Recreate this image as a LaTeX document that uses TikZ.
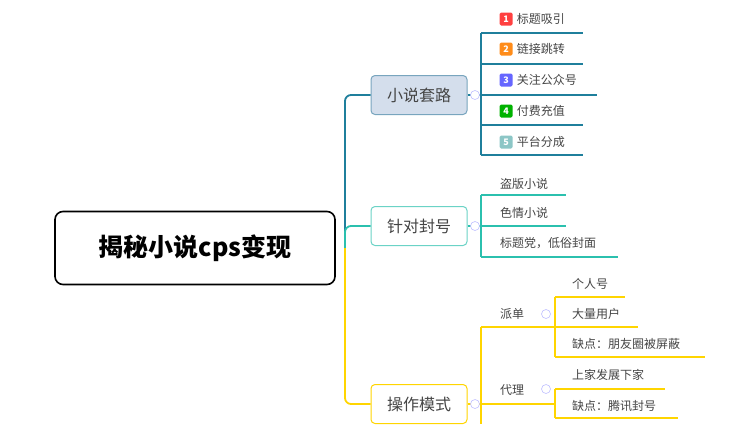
\documentclass[tikz,border=0pt]{standalone}
\usepackage{fontspec}
\setmainfont{Noto Sans CJK SC}
\usetikzlibrary{positioning}
\definecolor{tealA}{HTML}{1F7F9C}
\definecolor{tealB}{HTML}{2BC0AE}
\definecolor{gold}{HTML}{FFD500}
\definecolor{txt}{HTML}{444444}
\tikzset{
    root/.style={rectangle, draw=black, line width=1.6pt, rounded corners=8pt, minimum width=280pt, minimum height=73pt, font=\bfseries\fontsize{25}{28}\selectfont},
    topic/.style={rectangle, rounded corners=4pt, line width=1pt, minimum width=96pt, minimum height=39pt, font=\fontsize{16}{18}\selectfont, text=txt},
    leaf/.style={anchor=west, inner sep=0pt, font=\fontsize{12}{14}\selectfont, text=txt},
    badge/.style={rectangle, rounded corners=1.5pt, minimum size=13pt, inner sep=0pt, text=white, font=\bfseries\fontsize{9}{10}\selectfont},
    fold/.style={circle, draw=blue!25, line width=0.6pt, minimum size=9pt, inner sep=0pt, fill=white},
    link/.style={line width=1.8pt, rounded corners=6pt}
}
\begin{document}
\begin{tikzpicture}[x=1pt, y=-1pt]
    \useasboundingbox (0,0) rectangle (754,424);
    % root
    \node[root] (R) at (195,248) {揭秘小说cps变现};

    % main topics
    \node[topic, fill={rgb,255:red,212;green,222;blue,236}, draw={rgb,255:red,120;green,165;blue,190}] (T1) at (419,95) {小说套路};
    \node[topic, fill=white, draw=tealB!70] (T2) at (419,226) {针对封号};
    \node[topic, fill=white, draw=gold] (T3) at (419,404) {操作模式};

    % trunk
    \coordinate (J) at (345,248);
    \draw[link, tealA] (J) |- (T1.west);
    \draw[link, tealB] (J) |- (T2.west);
    \draw[link, gold] (J) -- (345,404) -- (T3.west);

    % branch 1
    \draw[line width=1.4pt, tealA] (T1.east) -- (481,95);
    \draw[line width=1.4pt, tealA] (481,33) -- (481,155);
    \foreach \y/\e in {33/583, 64/583, 95/597, 125/583, 155/583}
        \draw[line width=1.4pt, tealA] (481,\y) -- (\e,\y);
    \foreach \y/\n/\c/\t in {19/1/red!75/标题吸引, 49/2/orange!90/链接跳转, 80/3/blue!60/关注公众号, 111/4/green!70!black/付费充值, 142/5/teal!45/平台分成} {
        \node[badge, fill=\c] (B\n) at (506,\y) {\n};
        \node[leaf, right=4pt of B\n] (L\n) {\t};
    }

    % branch 2
    \draw[line width=1.4pt, tealB] (T2.east) -- (481,226);
    \draw[line width=1.4pt, tealB] (481,195) -- (481,257);
    \foreach \y/\e in {195/566, 226/566, 257/618}
        \draw[line width=1.4pt, tealB] (481,\y) -- (\e,\y);
    \node[leaf] (M1) at (500,184) {盗版小说};
    \node[leaf] (M2) at (500,213) {色情小说};
    \node[leaf] (M3) at (500,243) {标题党，低俗封面};

    % branch 3
    \draw[line width=1.4pt, gold] (T3.east) -- (481,404);
    \draw[line width=1.4pt, gold] (481,327) -- (481,424);
    \draw[line width=1.4pt, gold] (481,327) -- (555,327);
    \draw[line width=1.4pt, gold] (481,404) -- (555,404);
    \node[leaf] (P) at (500,314) {派单};
    \node[leaf] (D) at (500,390) {代理};
    \draw[line width=1.4pt, gold] (555,297) -- (555,357);
    \foreach \y/\e in {297/625, 327/638, 357/705}
        \draw[line width=1.4pt, gold] (555,\y) -- (\e,\y);
    \draw[line width=1.4pt, gold] (555,389) -- (555,418);
    \foreach \y/\e in {389/665, 418/678}
        \draw[line width=1.4pt, gold] (555,\y) -- (\e,\y);
    \node[leaf] (P1) at (572,284) {个人号};
    \node[leaf] (P2) at (572,314) {大量用户};
    \node[leaf] (P3) at (572,344) {缺点：朋友圈被屏蔽};
    \node[leaf] (D1) at (572,375) {上家发展下家};
    \node[leaf] (D2) at (572,406) {缺点：腾讯封号};

    % fold circles
    \node[fold] (F1) at (475,95) {};
    \node[fold] (F2) at (475,226) {};
    \node[fold] (F3) at (475,404) {};
    \node[fold] (F4) at (546,314) {};
    \node[fold] (F5) at (546,389) {};
\end{tikzpicture}
\end{document}
